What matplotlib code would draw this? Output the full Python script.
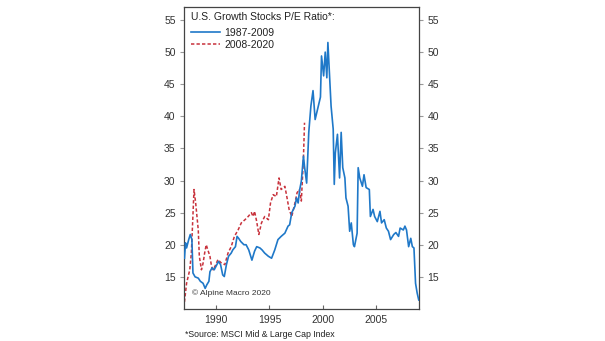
import matplotlib
matplotlib.use('Agg')
import matplotlib.pyplot as plt

plt.rcParams['font.family'] = ['Liberation Sans', 'DejaVu Sans']

# blue series: 1987-2009 (decimal year, P/E)
blue_x = [1987.0, 1987.1, 1987.2, 1987.4, 1987.55, 1987.7, 1987.8, 1988.0, 1988.3, 1988.5,
          1988.75, 1988.95, 1989.1, 1989.3, 1989.4, 1989.6, 1989.8, 1990.05, 1990.2, 1990.4,
          1990.6, 1990.75, 1990.95, 1991.15, 1991.4, 1991.55, 1991.8, 1991.95, 1992.1, 1992.3,
          1992.6, 1992.8, 1993.05, 1993.2, 1993.35, 1993.6, 1993.8, 1994.1, 1994.3, 1994.55,
          1994.9, 1995.2, 1995.5, 1995.8, 1996.1, 1996.45, 1996.75, 1996.9, 1997.1, 1997.4,
          1997.55, 1997.7, 1997.85, 1998.0, 1998.2, 1998.3, 1998.5, 1998.7, 1998.9, 1999.1,
          1999.3, 1999.8, 1999.9, 2000.1, 2000.25, 2000.4, 2000.5, 2000.8, 2000.9, 2001.0,
          2001.1, 2001.2, 2001.4, 2001.6, 2001.75, 2001.9, 2002.1, 2002.2, 2002.4, 2002.55,
          2002.7, 2002.9, 2003.0, 2003.25, 2003.35, 2003.5, 2003.75, 2003.9, 2004.1, 2004.4,
          2004.5, 2004.75, 2004.9, 2005.15, 2005.4, 2005.55, 2005.8, 2006.0, 2006.2, 2006.4,
          2006.7, 2006.9, 2007.15, 2007.3, 2007.6, 2007.75, 2007.9, 2008.1, 2008.3, 2008.45,
          2008.6, 2008.75, 2008.9, 2009.05]
blue_y = [17.9, 20.3, 19.5, 20.8, 21.6, 20.8, 15.6, 15.0, 14.8, 14.3,
          14.0, 13.2, 13.75, 14.3, 15.8, 16.4, 16.1, 16.9, 17.4, 16.9,
          15.3, 15.05, 16.9, 18.2, 18.7, 19.2, 19.7, 21.3, 21.0, 20.5,
          20.0, 20.0, 19.2, 18.4, 17.6, 19.0, 19.7, 19.5, 19.2, 18.7,
          18.2, 17.9, 19.2, 20.8, 21.3, 21.8, 22.9, 23.1, 25.0, 26.0,
          27.3, 26.5, 28.6, 29.9, 33.8, 32.2, 29.6, 37.5, 41.6, 44.0,
          39.5, 43.0, 49.4, 46.3, 50.0, 46.0, 51.5, 41.6, 39.8, 38.0,
          29.4, 34.3, 37.2, 30.4, 37.5, 32.0, 30.4, 27.3, 26.0, 22.1,
          23.4, 20.0, 19.7, 21.8, 32.0, 30.4, 29.1, 30.9, 28.9, 28.6,
          24.4, 25.5, 24.4, 23.6, 25.2, 23.4, 23.9, 22.6, 22.1, 20.8,
          21.6, 21.9, 21.3, 22.6, 22.3, 22.9, 22.3, 19.7, 21.0, 19.7,
          19.5, 14.0, 12.5, 11.4]

# red series: 2009-2020, drawn shifted onto the 1987 start
shift = 22
red_x = [2009.0, 2009.2, 2009.5, 2009.65, 2009.9, 2010.05, 2010.3, 2010.4, 2010.6, 2010.75,
         2010.9, 2011.05, 2011.2, 2011.4, 2011.55, 2011.7, 2011.95, 2012.15, 2012.5, 2012.8,
         2013.1, 2013.4, 2013.7, 2014.05, 2014.35, 2014.7, 2015.0, 2015.3, 2015.45, 2015.6,
         2015.8, 2016.0, 2016.25, 2016.55, 2016.9, 2017.1, 2017.35, 2017.65, 2017.9, 2018.1,
         2018.45, 2018.6, 2018.85, 2019.1, 2019.4, 2019.6, 2019.8, 2020.0, 2020.2, 2020.3]
red_y = [11.1, 14.0, 16.1, 18.7, 28.6, 26.6, 22.3, 18.2, 16.1, 17.1,
         18.7, 20.0, 19.2, 18.2, 16.6, 16.1, 16.9, 17.7, 17.1, 16.9,
         18.7, 19.7, 21.3, 22.3, 23.4, 23.9, 24.4, 25.0, 24.4, 25.2,
         23.6, 21.6, 23.4, 24.4, 23.9, 26.5, 27.8, 27.5, 30.4, 28.6,
         29.1, 27.8, 25.5, 24.4, 26.5, 28.1, 28.6, 26.8, 33.5, 39.0]

fig = plt.figure(figsize=(6.05, 3.41), dpi=100)
ax = fig.add_axes([0.304, 0.094, 0.389, 0.885])

ax.plot(blue_x, blue_y, color='#1f78c8', lw=1.2, label='1987-2009', zorder=3)
ax.plot([x - shift for x in red_x], red_y, color='#c8323c', lw=1.1,
        ls=(0, (2.2, 1.4)), label='2008-2020', zorder=2)

ax.set_xlim(1986.95, 2009.1)
ax.set_ylim(10, 57)
ax.set_xticks([1990, 1995, 2000, 2005])
ax.set_yticks([15, 20, 25, 30, 35, 40, 45, 50, 55])

for s in ax.spines.values():
    s.set_color('#444444')
    s.set_linewidth(0.9)

ax.tick_params(axis='x', direction='in', length=3, color='#666666',
               labelsize=7.5, labelcolor='#333333', pad=4)
ax.tick_params(axis='y', direction='out', length=3, color='#999999',
               labelsize=7.5, labelcolor='#333333', pad=3,
               left=True, right=True, labelleft=True, labelright=True)

ax.text(0.03, 0.985, 'U.S. Growth Stocks P/E Ratio*:', transform=ax.transAxes,
        fontsize=7.5, color='#222222', va='top', ha='left')
leg = ax.legend(loc='upper left', bbox_to_anchor=(0.0, 0.955), frameon=False,
                fontsize=7.5, handlelength=2.8, handletextpad=0.4,
                labelspacing=0.2, borderaxespad=0.3)
for t in leg.get_texts():
    t.set_color('#222222')

ax.text(0.035, 0.04, '\u00a9 Alpine Macro 2020', transform=ax.transAxes,
        fontsize=6, color='#333333', va='bottom', ha='left')
fig.text(0.305, 0.005, '*Source: MSCI Mid & Large Cap Index', fontsize=6.3,
         color='#222222', va='bottom', ha='left')

fig.savefig('out.png', dpi=100)
